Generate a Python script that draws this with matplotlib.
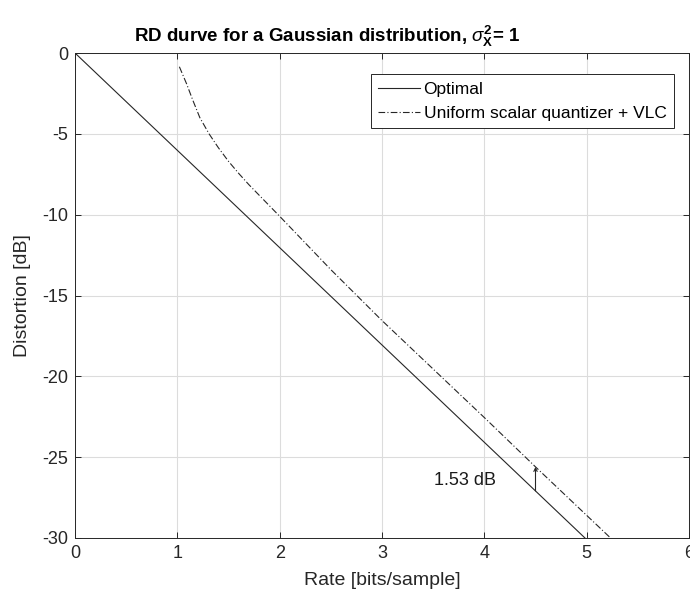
import matplotlib
matplotlib.use('Agg')
import matplotlib.pyplot as plt

plt.rcParams['font.family'] = ['Liberation Sans', 'DejaVu Sans']
plt.rcParams['axes.unicode_minus'] = False
plt.rcParams['mathtext.fontset'] = 'custom'
plt.rcParams['mathtext.rm'] = 'Liberation Sans'
plt.rcParams['mathtext.it'] = 'Liberation Sans:italic'
plt.rcParams['mathtext.bf'] = 'Liberation Sans:bold'

# data
opt_rate = [0.0, 5.0]
opt_dist = [0.0, -30.1]

ecsq_rate = [1.02, 1.05, 1.09, 1.15, 1.22, 1.31, 1.4, 1.5, 1.6, 1.7, 1.8, 1.9, 2.0,
             2.5, 3.0, 3.5, 4.0, 4.5, 5.0, 5.25]
ecsq_dist = [-0.85, -1.3, -1.9, -2.9, -4.0, -5.0, -5.85, -6.7, -7.45, -8.15, -8.8, -9.45, -10.1,
             -13.4, -16.55, -19.55, -22.55, -25.6, -28.6, -30.1]

gap_rate = 4.5
gap_low, gap_high = -27.09, -25.6
gap_label = '1.53 dB'

xticks = [0, 1, 2, 3, 4, 5, 6]
yticks = [0, -5, -10, -15, -20, -25, -30]

fig = plt.figure(figsize=(6.9, 5.95), dpi=100)
ax = fig.add_axes([75 / 690, 57 / 595, 614 / 690, 485 / 595])

ax.plot(opt_rate, opt_dist, color='#262626', lw=0.8, label='Optimal')
ax.plot(ecsq_rate, ecsq_dist, color='#262626', lw=0.8, ls='-.',
        dashes=(6, 2, 1, 2), label='Uniform scalar quantizer + VLC')

ax.annotate('', xy=(gap_rate, gap_high), xytext=(gap_rate, gap_low),
            arrowprops=dict(arrowstyle='->', color='#262626', lw=0.8,
                            shrinkA=0, shrinkB=0, mutation_scale=6))
ax.text(3.51, -26.45, gap_label, fontsize=13, va='center', ha='left',
        color='#1a1a1a')

ax.set_xlim(0, 6)
ax.set_ylim(-30, 0)
ax.set_xticks(xticks)
ax.set_yticks(yticks)
ax.grid(True, color='#dcdcdc', lw=0.8)
ax.set_axisbelow(True)
ax.tick_params(direction='in', length=4, width=0.7, colors='#262626',
               labelsize=13, top=True, right=True, pad=5)
for s in ax.spines.values():
    s.set_color('#262626')
    s.set_linewidth(0.7)

ax.set_xlabel('Rate [bits/sample]', fontsize=14, color='#262626', labelpad=7)
ax.set_ylabel('Distortion [dB]', fontsize=14, color='#262626', labelpad=8)
ax.set_title(r'RD durve for a Gaussian distribution, $\sigma_{\mathbf{X}}^{\mathbf{2}}$= 1',
             fontsize=13.5, fontweight='bold', x=0.41, pad=8)

leg = ax.legend(loc='upper right', bbox_to_anchor=(0.976, 0.957), fontsize=12.5,
                fancybox=False, framealpha=1, edgecolor='#262626',
                handlelength=2.4, handletextpad=0.2, borderpad=0.45,
                labelspacing=0.5, borderaxespad=0)
leg.get_frame().set_linewidth(0.7)

fig.savefig('out.png', dpi=100)
